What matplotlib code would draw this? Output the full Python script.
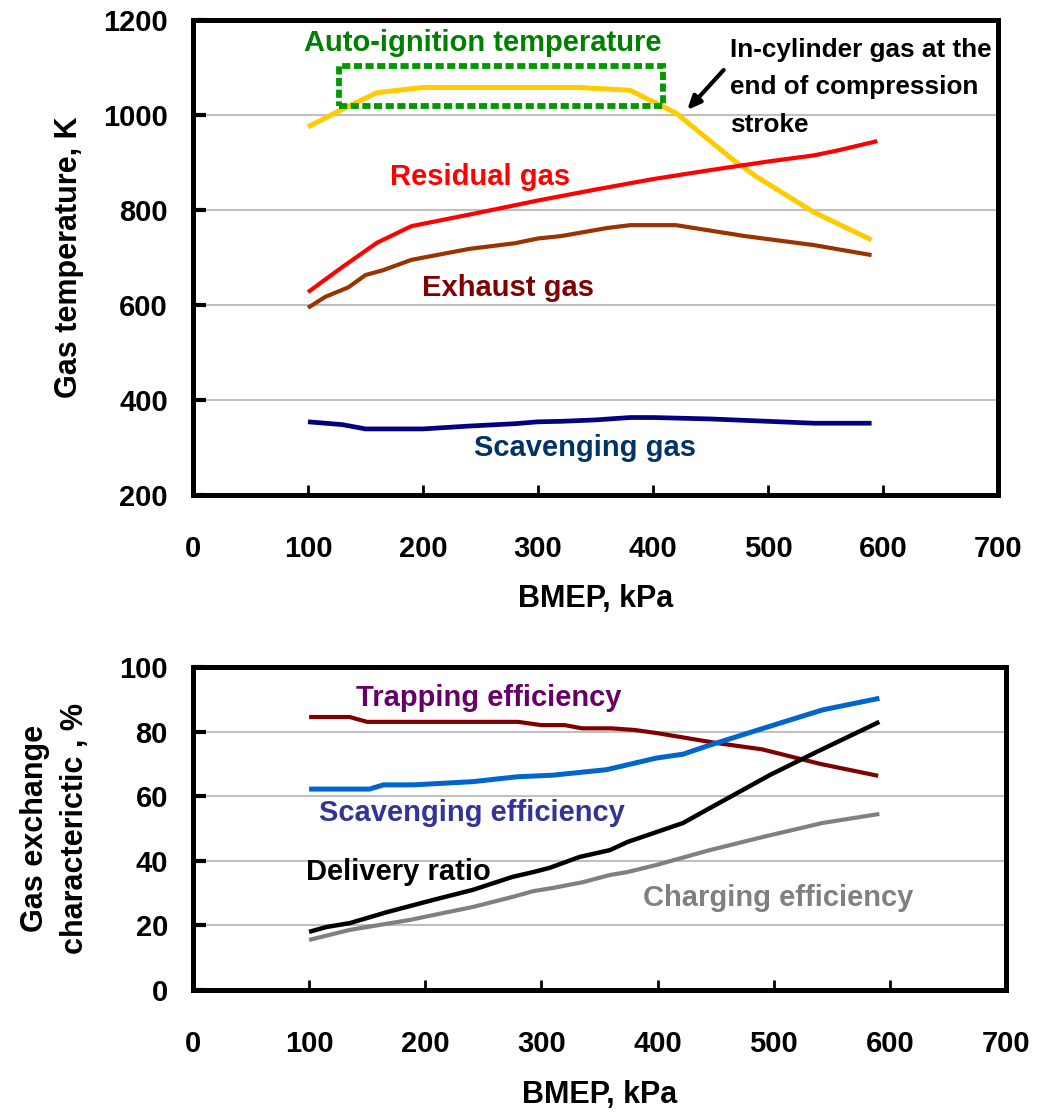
import matplotlib
matplotlib.use('Agg')
import matplotlib.pyplot as plt
from matplotlib.patches import Rectangle

plt.rcParams['font.family'] = ['Liberation Sans', 'DejaVu Sans']
plt.rcParams['font.weight'] = 'bold'

# top chart: gas temperatures (K) vs BMEP (kPa)
incyl_x = [100, 130, 160, 200, 250, 300, 335, 380, 420, 470, 490, 540, 590]
incyl_y = [975, 1012, 1047, 1058, 1058, 1058, 1058, 1052, 1004, 905, 870, 795, 737]

resid_x = [100, 130, 160, 190, 250, 300, 350, 400, 450, 500, 540, 560, 595]
resid_y = [627, 680, 731, 766, 795, 820, 843, 865, 884, 902, 915, 925, 945]

exh_x = [100, 115, 135, 150, 165, 190, 240, 280, 300, 320, 360, 380, 420, 480, 540, 590]
exh_y = [594, 617, 637, 663, 673, 695, 718, 730, 740, 745, 762, 768, 768, 745, 726, 705]

scav_x = [100, 130, 150, 200, 240, 280, 300, 320, 350, 380, 400, 450, 500, 540, 590]
scav_y = [354, 348, 339, 339, 345, 350, 354, 355, 358, 363, 363, 360, 355, 351, 351]

# auto-ignition band (BMEP range, temperature range)
ign_x = [127, 409]
ign_y = [1019, 1103]

# bottom chart: gas exchange characteristics (%)
trap_x = [100, 135, 150, 280, 300, 320, 335, 360, 380, 400, 450, 490, 540, 590]
trap_y = [84.5, 84.5, 83, 83, 82, 82, 81, 81, 80.5, 79.5, 76.5, 74.5, 70, 66.3]

seff_x = [100, 152, 164, 190, 241, 279, 310, 356, 374, 399, 422, 445, 491, 542, 591]
seff_y = [62.2, 62.2, 63.5, 63.5, 64.5, 66, 66.5, 68.2, 69.7, 71.8, 73, 75.8, 81, 86.7, 90.3]

deliv_x = [100, 115, 135, 167, 207, 241, 275, 293, 307, 333, 359, 374, 422, 442, 497, 537, 591]
deliv_y = [18, 19.5, 20.7, 24.1, 27.9, 31, 35, 36.5, 37.8, 41.2, 43.3, 45.8, 51.7, 55.7, 66.6, 73.7, 83]

charg_x = [100, 135, 187, 207, 241, 275, 293, 310, 336, 359, 374, 399, 445, 491, 542, 591]
charg_y = [15.5, 18.6, 21.7, 23.2, 25.7, 28.8, 30.6, 31.6, 33.4, 35.6, 36.5, 38.7, 43.3, 47.4, 51.7, 54.5]

x_ticks = [0, 100, 200, 300, 400, 500, 600, 700]


def style_axes(ax, yticks):
    for s in ax.spines.values():
        s.set_linewidth(3.6)
    ax.set_xlim(0, 700)
    ax.set_xticks(x_ticks)
    ax.set_yticks(yticks)
    ax.tick_params(axis='x', direction='in', length=7, width=2, pad=29, labelsize=21)
    ax.tick_params(axis='y', direction='in', length=9, width=3, pad=18, labelsize=21)
    for lab in ax.get_xticklabels() + ax.get_yticklabels():
        lab.set_fontweight('bold')
    ax.yaxis.grid(True, color='#c0c0c0', linewidth=1.5)
    ax.set_axisbelow(True)


fig = plt.figure(figsize=(10.47, 11.17), dpi=100)

ax1 = fig.add_axes([0.1843, 0.5569, 0.769, 0.4252])
style_axes(ax1, [200, 400, 600, 800, 1000, 1200])
ax1.set_ylim(200, 1200)
ax1.set_xlabel('BMEP, kPa', fontsize=22, fontweight='bold', labelpad=15)
ax1.set_ylabel('Gas temperature, K', fontsize=22, fontweight='bold', labelpad=14)

ax1.plot(incyl_x, incyl_y, color='#ffcc00', lw=3.6, solid_capstyle='butt')
ax1.plot(resid_x, resid_y, color='#ff0000', lw=3.0, solid_capstyle='butt')
ax1.plot(exh_x, exh_y, color='#993300', lw=3.0, solid_capstyle='butt')
ax1.plot(scav_x, scav_y, color='#000080', lw=3.4, solid_capstyle='butt')

ax1.add_patch(Rectangle((ign_x[0], ign_y[0]), ign_x[1] - ign_x[0], ign_y[1] - ign_y[0],
                        fill=False, edgecolor='#009900', lw=4.2, linestyle=(0, (1.4, 0.6)), zorder=4))

ax1.text(252, 1152, 'Auto-ignition temperature', color='#008000', fontsize=21,
         fontweight='bold', ha='center', va='center')
ax1.text(250, 869, 'Residual gas', color='#ff0000', fontsize=21, fontweight='bold',
         ha='center', va='center')
ax1.text(274, 636, 'Exhaust gas', color='#800000', fontsize=21, fontweight='bold',
         ha='center', va='center')
ax1.text(341, 299, 'Scavenging gas', color='#003366', fontsize=21, fontweight='bold',
         ha='center', va='center')
ax1.text(467, 1163, 'In-cylinder gas at the\nend of compression\nstroke', color='black',
         fontsize=18.8, fontweight='bold', ha='left', va='top', linespacing=1.72)
ax1.annotate('', xy=(428, 1006), xytext=(463, 1099),
             arrowprops=dict(arrowstyle='-|>,head_length=0.8,head_width=0.35', color='black', lw=3))

ax2 = fig.add_axes([0.1843, 0.1137, 0.7765, 0.2892])
style_axes(ax2, [0, 20, 40, 60, 80, 100])
ax2.set_ylim(0, 100)
ax2.set_xlabel('BMEP, kPa', fontsize=22, fontweight='bold', labelpad=16)
ax2.set_ylabel('Gas exchange\ncharacterictic , %', fontsize=22, fontweight='bold',
               labelpad=21, linespacing=1.45)

ax2.plot(trap_x, trap_y, color='#800000', lw=3.0, solid_capstyle='butt')
ax2.plot(seff_x, seff_y, color='#0066cc', lw=3.6, solid_capstyle='butt')
ax2.plot(deliv_x, deliv_y, color='black', lw=3.2, solid_capstyle='butt')
ax2.plot(charg_x, charg_y, color='#808080', lw=3.0, solid_capstyle='butt')

ax2.text(255, 90.4, 'Trapping efficiency', color='#660066', fontsize=21, fontweight='bold',
         ha='center', va='center')
ax2.text(240, 54.8, 'Scavenging efficiency', color='#333399', fontsize=21, fontweight='bold',
         ha='center', va='center')
ax2.text(177, 36.5, 'Delivery ratio', color='black', fontsize=21, fontweight='bold',
         ha='center', va='center')
ax2.text(504, 28.5, 'Charging efficiency', color='#808080', fontsize=21, fontweight='bold',
         ha='center', va='center')

fig.savefig('out.png', dpi=100)
